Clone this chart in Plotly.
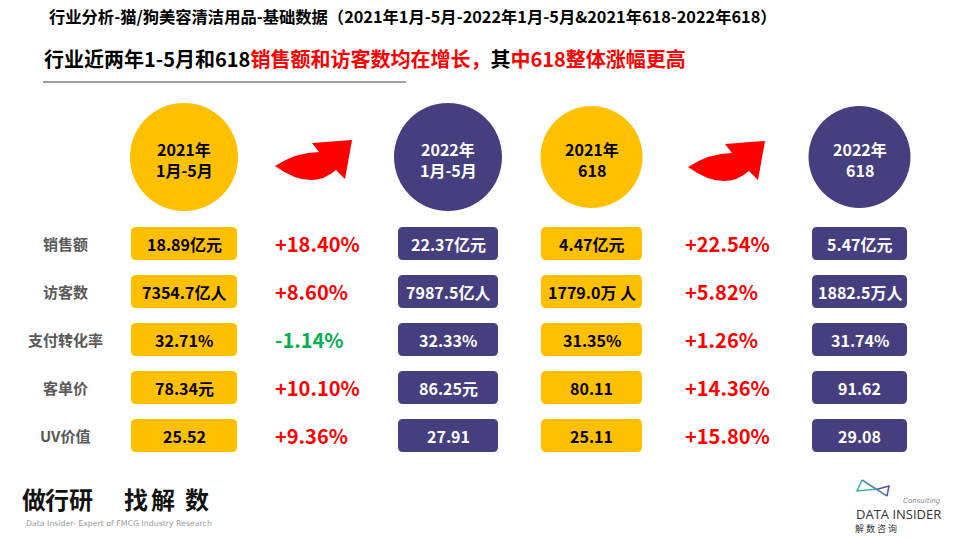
import plotly.graph_objects as go

# 数据
period_year = ["2021年", "2022年", "2021年", "2022年"]
period_span = ["1月-5月", "1月-5月", "618", "618"]
metrics = ["销售额", "访客数", "支付转化率", "客单价", "UV价值"]
v2021_15 = ["18.89亿元", "7354.7亿人", "32.71%", "78.34元", "25.52"]
v2022_15 = ["22.37亿元", "7987.5亿人", "32.33%", "86.25元", "27.91"]
v2021_618 = ["4.47亿元", "1779.0万 人", "31.35%", "80.11", "25.11"]
v2022_618 = ["5.47亿元", "1882.5万人", "31.74%", "91.62", "29.08"]
growth_15 = ["+18.40%", "+8.60%", "-1.14%", "+10.10%", "+9.36%"]
growth_618 = ["+22.54%", "+5.82%", "+1.26%", "+14.36%", "+15.80%"]

title = "行业分析-猫/狗美容清洁用品-基础数据（2021年1月-5月-2022年1月-5月&2021年618-2022年618）"
sub_black1 = "行业近两年1-5月和618"
sub_red1 = "销售额和访客数均在增长，"
sub_black2 = "其"
sub_red2 = "中618整体涨幅更高"

YELLOW = "#FFC000"
PURPLE = "#453F80"
RED = "#FF0000"
GREEN = "#00B050"
FONT = "Noto Sans CJK SC"

col_x = [184, 448, 591.5, 859.5]
col_w = [106, 100, 101, 95]
col_r = [54, 54, 51, 51]
col_fill = [YELLOW, PURPLE, YELLOW, PURPLE]
col_txt = ["#000000", "#FFFFFF", "#000000", "#FFFFFF"]
columns = [v2021_15, v2022_15, v2021_618, v2022_618]
row_y = [243.5 + 48 * i for i in range(len(metrics))]
circle_y = 157
box_h = 33


def rrect(x0, y0, x1, y1, r):
    return (f"M {x0+r} {y0} L {x1-r} {y0} Q {x1} {y0} {x1} {y0+r} "
            f"L {x1} {y1-r} Q {x1} {y1} {x1-r} {y1} L {x0+r} {y1} "
            f"Q {x0} {y1} {x0} {y1-r} L {x0} {y0+r} Q {x0} {y0} {x0+r} {y0} Z")


def arrow(ox, oy):
    pts = [(276, 166), (320, 152), (313, 143), (353, 140), (346, 179), (337, 170)]
    p = [(x - 276 + ox, y - 140 + oy) for x, y in pts]
    c1 = (298 - 276 + ox, 152 - 140 + oy)
    c2 = (312 - 276 + ox, 192 - 140 + oy)
    return (f"M {p[0][0]} {p[0][1]} Q {c1[0]} {c1[1]} {p[1][0]} {p[1][1]} "
            f"L {p[2][0]} {p[2][1]} L {p[3][0]} {p[3][1]} L {p[4][0]} {p[4][1]} "
            f"L {p[5][0]} {p[5][1]} Q {c2[0]} {c2[1]} {p[0][0]} {p[0][1]} Z")


fig = go.Figure()
fig.add_trace(go.Scatter(x=[0, 960], y=[0, 540], mode="markers",
                         marker=dict(opacity=0), hoverinfo="skip", showlegend=False))

shapes = []
ann = []

# 标题
ann.append(dict(x=47, y=16, text=f"<b>{title}</b>", xanchor="left", yanchor="middle",
                font=dict(size=16.3, color="#000000", family=FONT)))
ann.append(dict(x=42, y=58, xanchor="left", yanchor="middle",
                text=(f"<b>{sub_black1}<span style='color:{RED}'>{sub_red1}</span>"
                      f"{sub_black2}<span style='color:{RED}'>{sub_red2}</span></b>"),
                font=dict(size=20, color="#000000", family=FONT)))
shapes.append(dict(type="line", x0=43, x1=406, y0=82, y1=82,
                   line=dict(color="#808080", width=1.5)))

# 圆形
for i in range(len(period_year)):
    r = col_r[i]
    shapes.append(dict(type="circle", x0=col_x[i] - r, x1=col_x[i] + r,
                       y0=circle_y - r, y1=circle_y + r,
                       fillcolor=col_fill[i], line=dict(width=0)))
    for dy, t in ((-8.5, period_year[i]), (12.5, period_span[i])):
        ann.append(dict(x=col_x[i], y=circle_y + dy, text=f"<b>{t}</b>",
                        xanchor="center", yanchor="middle", borderpad=0,
                        font=dict(size=16, color=col_txt[i], family=FONT)))

# 箭头
shapes.append(dict(type="path", path=arrow(275, 140), fillcolor=RED, line=dict(width=0)))
shapes.append(dict(type="path", path=arrow(688, 141), fillcolor=RED, line=dict(width=0)))

# 指标行
for j, m in enumerate(metrics):
    y = row_y[j]
    ann.append(dict(x=65, y=y, text=f"<b>{m}</b>", xanchor="center", yanchor="middle",
                    font=dict(size=15, color="#595959", family=FONT)))
    for i, col in enumerate(columns):
        x0 = col_x[i] - col_w[i] / 2
        x1 = col_x[i] + col_w[i] / 2
        shapes.append(dict(type="path", path=rrect(x0, y - box_h / 2, x1, y + box_h / 2, 5),
                           fillcolor=col_fill[i], line=dict(width=0)))
        ann.append(dict(x=col_x[i], y=y, text=f"<b>{col[j]}</b>",
                        xanchor="center", yanchor="middle",
                        font=dict(size=16, color=col_txt[i], family=FONT)))
    for gx, g in ((273, growth_15[j]), (683, growth_618[j])):
        ann.append(dict(x=gx, y=y, text=f"<b>{g}</b>", xanchor="left", yanchor="middle",
                        font=dict(size=20, color=GREEN if g.startswith("-") else RED,
                                  family=FONT)))

# 左下角标识
logo_chars = ["做", "行", "研", "找", "解", "数"]
logo_x = [34, 57, 81, 136, 163, 197]
for ch, lx in zip(logo_chars, logo_x):
    ann.append(dict(x=lx, y=498, text=f"<b>{ch}</b>", xanchor="center", yanchor="middle",
                    font=dict(size=24, color="#111111", family=FONT)))
ann.append(dict(x=24, y=523, text="Data Insider- Expert of FMCG Industry Research",
                xanchor="left", yanchor="middle",
                font=dict(size=7.8, color="#9A9A9A", family="DejaVu Sans")))

# 右下角标识
shapes.append(dict(type="path", path="M 862 480 L 857 491 L 878 489",
                   line=dict(color="#3AAFA9", width=1.5)))
shapes.append(dict(type="line", x0=862, y0=480, x1=887, y1=496,
                   line=dict(color="#4A86A8", width=1.5)))
shapes.append(dict(type="path", path="M 878 489 L 889 486 L 887 496",
                   line=dict(color="#5B4BA0", width=1.5)))
ann.append(dict(x=943, y=501, text="<i>Consulting</i>", xanchor="right", yanchor="middle",
                font=dict(size=7, color="#8A8A8A", family="DejaVu Sans")))
ann.append(dict(x=898, y=514, text="DATA INSIDER", xanchor="center", yanchor="middle",
                font=dict(size=13, color="#333333", family="Open Sans")))
ann.append(dict(x=853, y=528, text="解 数 咨 询", xanchor="left", yanchor="middle",
                font=dict(size=9, color="#333333", family=FONT)))

for a in ann:
    a.update(xref="x", yref="y", showarrow=False)

fig.update_layout(
    width=960, height=540,
    margin=dict(l=0, r=0, t=0, b=0),
    paper_bgcolor="white", plot_bgcolor="white",
    xaxis=dict(range=[0, 960], visible=False, fixedrange=True),
    yaxis=dict(range=[540, 0], visible=False, fixedrange=True),
    shapes=shapes, annotations=ann,
    showlegend=False,
)

fig.write_html("out.html", config={"displayModeBar": False},
               post_script="document.body.style.margin='0';")
